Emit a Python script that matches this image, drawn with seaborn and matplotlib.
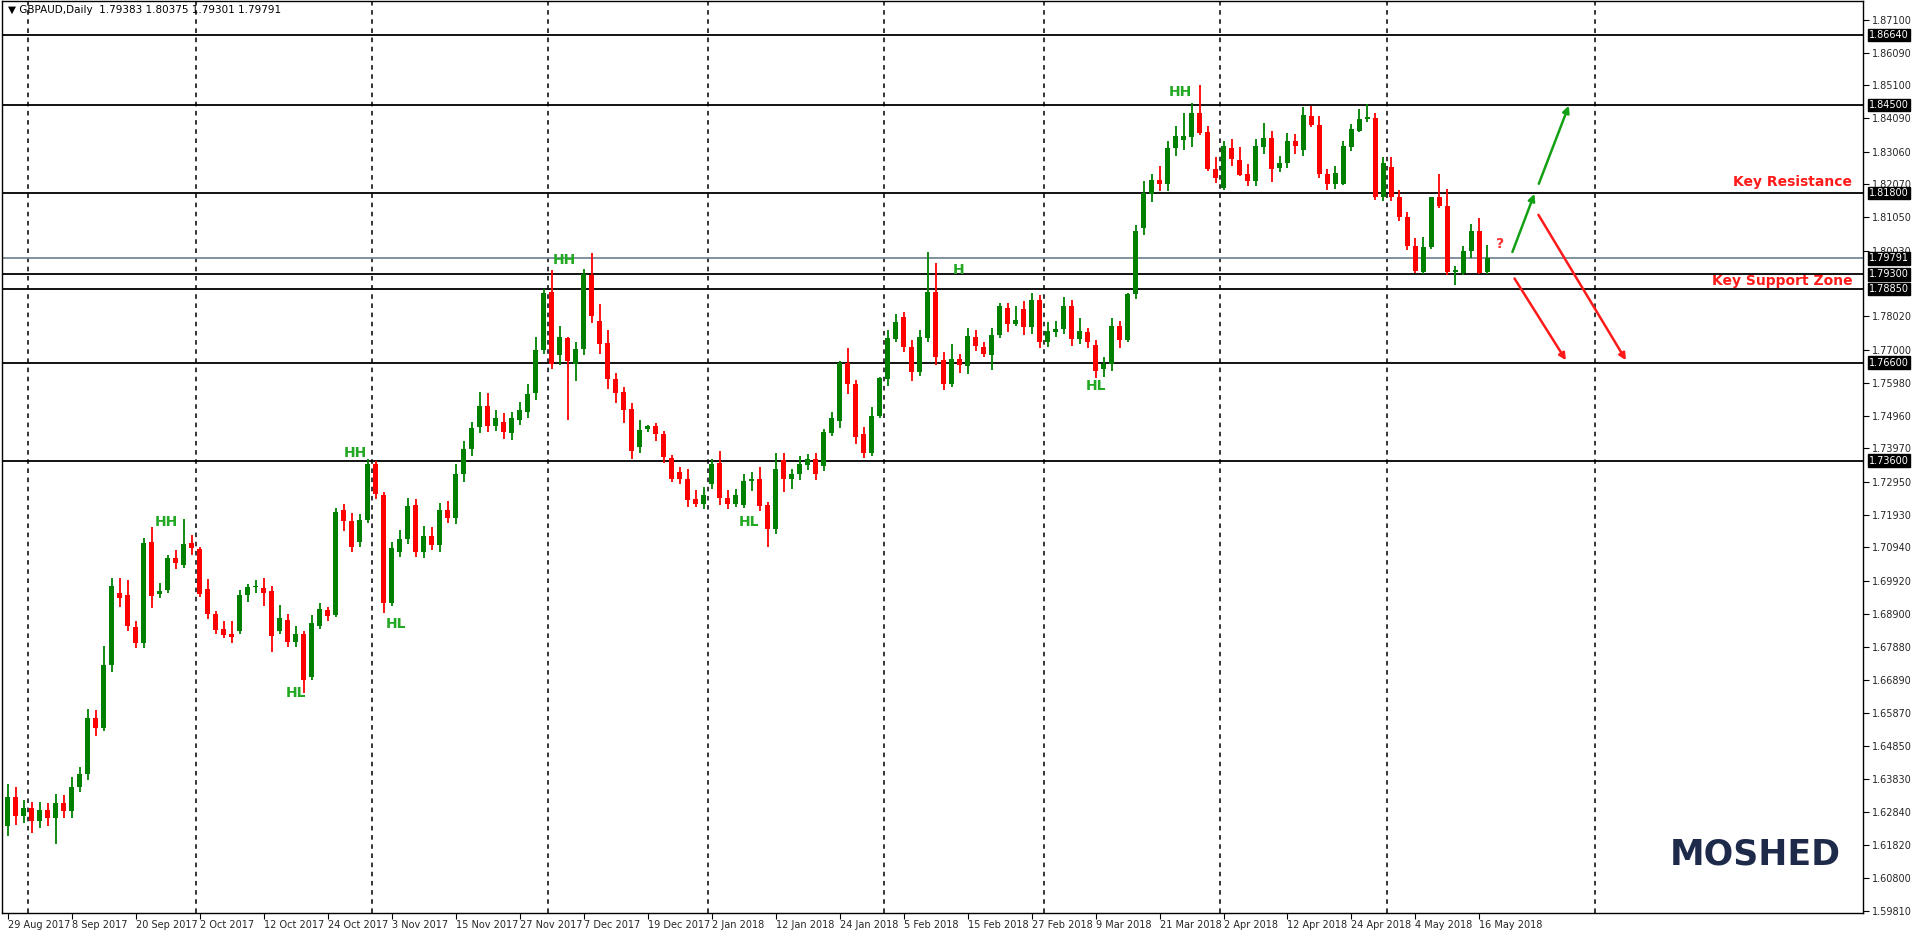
import numpy as np
import pandas as pd
import matplotlib
matplotlib.use("Agg")
import matplotlib.pyplot as plt
import matplotlib.transforms as mtransforms
import seaborn as sns

sns.set_theme(style="white")
plt.rcParams["font.family"] = ["DejaVu Sans"]

# daily GBPAUD candles
opens = [1.6240, 1.6330, 1.6270, 1.6295, 1.6255, 1.6290, 1.6265, 1.6310, 1.6285, 1.6360,
         1.6400, 1.6570, 1.6540, 1.6733, 1.6955, 1.6948, 1.6850, 1.6800, 1.7111, 1.6950,
         1.6963, 1.7061, 1.7040, 1.7107, 1.7090, 1.6966, 1.6890, 1.6844, 1.6830, 1.6838,
         1.6948, 1.6974, 1.6970, 1.6960, 1.6838, 1.6871, 1.6803, 1.6828, 1.6698, 1.6854,
         1.6902, 1.6887, 1.7208, 1.7174, 1.7110, 1.7178, 1.7348, 1.7254, 1.6924, 1.7080,
         1.7119, 1.7223, 1.7080, 1.7130, 1.7100, 1.7210, 1.7185, 1.7320, 1.7395, 1.7463,
         1.7526, 1.7466, 1.7477, 1.7444, 1.7483, 1.7509, 1.7567, 1.7700, 1.7875, 1.7683,
         1.7734, 1.7655, 1.7703, 1.7929, 1.7789, 1.7719, 1.7609, 1.7569, 1.7517, 1.7402,
         1.7458, 1.7465, 1.7440, 1.7367, 1.7324, 1.7305, 1.7241, 1.7227, 1.7288, 1.7354,
         1.7244, 1.7227, 1.7224, 1.7298, 1.7305, 1.7223, 1.7151, 1.7363, 1.7303, 1.7320,
         1.7346, 1.7364, 1.7343, 1.7444, 1.7481, 1.7659, 1.7596, 1.7442, 1.7383, 1.7495,
         1.7609, 1.7732, 1.7800, 1.7709, 1.7630, 1.7734, 1.7877, 1.7667, 1.7595, 1.7670,
         1.7650, 1.7739, 1.7709, 1.7683, 1.7744, 1.7828, 1.7778, 1.7823, 1.7769, 1.7853,
         1.7724, 1.7754, 1.7764, 1.7832, 1.7732, 1.7755, 1.7713, 1.7640, 1.7655, 1.7773,
         1.7728, 1.7869, 1.8072, 1.8176, 1.8218, 1.8207, 1.8317, 1.8342, 1.8352, 1.8426,
         1.8365, 1.8254, 1.8194, 1.8316, 1.8282, 1.8239, 1.8215, 1.8320, 1.8349, 1.8255,
         1.8271, 1.8340, 1.8312, 1.8416, 1.8389, 1.8239, 1.8208, 1.8208, 1.8322, 1.8370,
         1.8406, 1.8410, 1.8166, 1.8260, 1.8168, 1.8107, 1.8018, 1.7937, 1.8014, 1.8168,
         1.8141, 1.7937, 1.7934, 1.8001, 1.8064, 1.7938]
closes = [1.6330, 1.6270, 1.6295, 1.6255, 1.6290, 1.6265, 1.6310, 1.6285, 1.6360, 1.6400,
          1.6570, 1.6540, 1.6733, 1.6975, 1.6940, 1.6853, 1.6800, 1.7107, 1.6944, 1.6960,
          1.7061, 1.7047, 1.7104, 1.7092, 1.6952, 1.6890, 1.6840, 1.6826, 1.6820, 1.6947,
          1.6972, 1.6975, 1.6955, 1.6823, 1.6878, 1.6805, 1.6828, 1.6688, 1.6862, 1.6905,
          1.6884, 1.7201, 1.7175, 1.7095, 1.7177, 1.7348, 1.7258, 1.6924, 1.7091, 1.7121,
          1.7220, 1.7080, 1.7130, 1.7100, 1.7210, 1.7185, 1.7320, 1.7395, 1.7459, 1.7526,
          1.7466, 1.7489, 1.7446, 1.7489, 1.7514, 1.7563, 1.7700, 1.7872, 1.7655, 1.7738,
          1.7664, 1.7703, 1.7933, 1.7802, 1.7717, 1.7610, 1.7567, 1.7515, 1.7389, 1.7455,
          1.7465, 1.7441, 1.7371, 1.7303, 1.7303, 1.7239, 1.7227, 1.7254, 1.7350, 1.7245,
          1.7227, 1.7254, 1.7298, 1.7305, 1.7221, 1.7151, 1.7333, 1.7303, 1.7320, 1.7348,
          1.7364, 1.7319, 1.7446, 1.7489, 1.7659, 1.7594, 1.7432, 1.7383, 1.7495, 1.7612,
          1.7734, 1.7783, 1.7707, 1.7630, 1.7739, 1.7877, 1.7677, 1.7595, 1.7672, 1.7653,
          1.7742, 1.7711, 1.7687, 1.7746, 1.7832, 1.7778, 1.7792, 1.7769, 1.7853, 1.7724,
          1.7758, 1.7764, 1.7832, 1.7732, 1.7758, 1.7724, 1.7634, 1.7657, 1.7771, 1.7730,
          1.7869, 1.8062, 1.8180, 1.8218, 1.8207, 1.8318, 1.8354, 1.8354, 1.8426, 1.8363,
          1.8252, 1.8225, 1.8324, 1.8283, 1.8236, 1.8215, 1.8325, 1.8349, 1.8254, 1.8273,
          1.8339, 1.8323, 1.8419, 1.8387, 1.8237, 1.8208, 1.8242, 1.8325, 1.8377, 1.8407,
          1.8413, 1.8168, 1.8270, 1.8166, 1.8105, 1.8016, 1.7940, 1.8015, 1.8168, 1.8139,
          1.7937, 1.7945, 1.8003, 1.8064, 1.7936, 1.7979]
# wick lengths above / below the body, in pips
wick_up = [40, 30, 25, 20, 25, 20, 30, 25, 30, 20,
           30, 25, 60, 25, 45, 45, 20, 15, 45, 25,
           10, 25, 78, 25, 5, 30, 10, 25, 40, 15,
           10, 20, 30, 15, 40, 20, 25, 10, 25, 20,
           10, 15, 20, 25, 20, 18, 10, 10, 20, 25,
           25, 20, 30, 25, 20, 25, 30, 25, 20, 45,
           40, 25, 30, 20, 25, 30, 40, 15, 70, 35,
           5, 20, 15, 66, 50, 40, 20, 15, 20, 30,
           5, 10, 10, 10, 15, 30, 30, 25, 15, 35,
           25, 20, 20, 20, 35, 10, 50, 20, 15, 25,
           15, 20, 10, 20, 5, 45, 10, 20, 30, 5,
           25, 25, 15, 20, 20, 123, 87, 25, 45, 15,
           25, 20, 15, 20, 10, 15, 40, 25, 20, 15,
           25, 25, 30, 20, 40, 10, 15, 20, 25, 15,
           5, 20, 35, 20, 45, 20, 30, 70, 30, 84,
           20, 35, 15, 30, 40, 30, 20, 45, 20, 20,
           25, 20, 25, 30, 25, 15, 20, 15, 15, 30,
           40, 15, 20, 30, 20, 15, 25, 30, 0, 70,
           52, 10, 15, 20, 40, 40]
wick_down = [30, 25, 20, 35, 20, 25, 80, 20, 20, 15,
             20, 25, 10, 20, 30, 15, 15, 15, 35, 10,
             10, 20, 10, 20, 10, 15, 10, 10, 20, 10,
             20, 20, 40, 50, 10, 15, 15, 40, 10, 10,
             15, 5, 30, 15, 15, 10, 15, 30, 10, 15,
             15, 15, 20, 15, 20, 15, 20, 25, 20, 20,
             20, 15, 20, 20, 15, 20, 20, 15, 15, 30,
             180, 50, 20, 20, 30, 30, 30, 40, 25, 20,
             10, 20, 20, 10, 15, 20, 10, 15, 15, 20,
             15, 10, 10, 30, 15, 56, 15, 40, 30, 20,
             15, 20, 15, 10, 20, 30, 20, 15, 10, 5,
             20, 10, 15, 25, 10, 10, 25, 20, 10, 25,
             25, 15, 10, 45, 10, 25, 5, 25, 20, 20,
             15, 15, 15, 20, 15, 20, 20, 25, 20, 25,
             5, 15, 20, 25, 20, 20, 25, 30, 30, 5,
             5, 15, 5, 20, 5, 15, 15, 20, 40, 10,
             15, 25, 20, 5, 10, 20, 15, 5, 15, 5,
             10, 10, 10, 10, 10, 10, 5, 5, 5, 5,
             10, 40, 5, 20, 5, 5]

dates = pd.bdate_range("2017-08-29", "2018-05-17")
dates = dates[~dates.isin(pd.to_datetime(["2017-12-25", "2018-01-01"]))]

levels = [1.8664, 1.8450, 1.8180, 1.7930, 1.7885, 1.7660, 1.7360]
level_labels = ["1.86640", "1.84500", "1.81800", "1.79300", "1.78850", "1.76600", "1.73600"]
last_price = 1.79791
price_ticks = [1.87100, 1.86090, 1.85100, 1.84090, 1.83060, 1.82070, 1.81050, 1.80030,
               1.78020, 1.77000, 1.75980, 1.74960, 1.73970, 1.72950, 1.71930, 1.70940,
               1.69920, 1.68900, 1.67880, 1.66890, 1.65870, 1.64850, 1.63830, 1.62840,
               1.61820, 1.60800, 1.59810]

swing_text = ["HH", "HL", "HH", "HL", "HH", "HL", "H", "HL", "HH"]
swing_bar = [19.8, 36.0, 43.5, 48.5, 69.6, 92.7, 118.9, 136.0, 146.6]
swing_price = [1.7172, 1.6647, 1.7383, 1.6859, 1.7973, 1.7172, 1.7945, 1.7587, 1.8490]

# scenario arrows: (bar0, price0, bar1, price1)
up_arrows = [(188.0, 1.7991, 191.0, 1.8185), (191.3, 1.8200, 195.3, 1.8455)]
down_arrows = [(188.2, 1.7925, 195.0, 1.7660), (191.2, 1.8120, 202.5, 1.7660)]
future_separators = [199]

df = pd.DataFrame({"date": dates[:len(closes)], "open": opens, "close": closes})
df["high"] = df[["open", "close"]].max(axis=1) + np.array(wick_up) * 1e-4
df["low"] = df[["open", "close"]].min(axis=1) - np.array(wick_down) * 1e-4
df["x"] = np.arange(len(df))
up = df["close"] >= df["open"]
df["color"] = np.where(up, "#008000", "#ff0000")

fig = plt.figure(figsize=(19.16, 9.34), dpi=100)
ax = fig.add_axes([0.001, 0.0225, 0.9715, 0.9765])

ax.vlines(df["x"], df["low"], df["high"], colors=df["color"], linewidth=1.3, zorder=3)
body = (df["close"] - df["open"]).abs().clip(lower=0.00012)
ax.bar(df["x"], body, bottom=df[["open", "close"]].min(axis=1), width=0.62,
       color=df["color"], linewidth=0, zorder=4)

# monthly separators
month_start = df.groupby(df["date"].dt.to_period("M"))["x"].min().values
for m in list(month_start[1:]) + future_separators:
    ax.axvline(m - 0.5, color="black", linestyle=(0, (3, 3)), linewidth=1.1, zorder=1)

for lv in levels:
    ax.axhline(lv, color="black", linewidth=1.3, zorder=2)
ax.axhline(last_price, color="#778899", linewidth=1.3, zorder=2)

ax.set_xlim(-0.75, 232)
ax.set_ylim(1.5974, 1.8768)

ax.yaxis.tick_right()
ax.set_yticks(price_ticks)
ax.set_yticklabels([f"{t:.5f}" for t in price_ticks], fontsize=7)
ax.tick_params(axis="y", length=4, width=0.8, color="black", pad=2, direction="out", right=True)
tick_dates = [pd.Timestamp(d) for d in df["date"].values[::8]]
ax.set_xticks(df["x"].values[::8])
ax.set_xticklabels([f"{d.day} {d:%b %Y}" for d in tick_dates], fontsize=7, ha="left")
ax.tick_params(axis="x", length=4, width=0.8, color="black", pad=1, direction="out", bottom=True)
for s in ax.spines.values():
    s.set_color("black")
    s.set_linewidth(1.0)

trans = mtransforms.blended_transform_factory(ax.transAxes, ax.transData)
box = dict(boxstyle="square,pad=0.12", fc="black", ec="black")
for lv, lab in zip(levels, level_labels):
    ax.text(1.003, lv, lab, transform=trans, fontsize=7, color="white", va="center", ha="left",
            bbox=box, clip_on=False)
ax.text(1.003, last_price, f"{last_price:.5f}", transform=trans, fontsize=7, color="white",
        va="center", ha="left", bbox=box, clip_on=False)

for t, bx, py in zip(swing_text, swing_bar, swing_price):
    ax.text(bx, py, t, color="#22a822", fontsize=10, fontweight="bold", ha="center", va="center")
ax.text(186.6, 1.8022, "?", color="#ff3030", fontsize=10, fontweight="bold", ha="center", va="center")

for x0, y0, x1, y1 in up_arrows:
    ax.annotate("", xy=(x1, y1), xytext=(x0, y0),
                arrowprops=dict(arrowstyle="-|>", color="#14a014", lw=1.8, mutation_scale=10))
for x0, y0, x1, y1 in down_arrows:
    ax.annotate("", xy=(x1, y1), xytext=(x0, y0),
                arrowprops=dict(arrowstyle="-|>", color="#ff1a1a", lw=1.8, mutation_scale=10))

ax.text(0.994, 1.8180 + 0.0012, "Key Resistance", transform=trans, color="#ff1a1a", fontsize=10,
        fontweight="bold", ha="right", va="bottom")
ax.text(0.994, 1.7885 + 0.0003, "Key Support Zone", transform=trans, color="#ff1a1a", fontsize=10,
        fontweight="bold", ha="right", va="bottom")

ax.text(0.003, 0.996, "\u25bc GBPAUD,Daily  1.79383 1.80375 1.79301 1.79791", transform=ax.transAxes,
        fontsize=7.5, color="black", ha="left", va="top")
ax.text(0.988, 0.045, "MOSHED", transform=ax.transAxes, fontsize=25, fontweight="heavy",
        color="#1e2a4a", ha="right", va="bottom")

fig.savefig("out.png", dpi=100, facecolor="white")
